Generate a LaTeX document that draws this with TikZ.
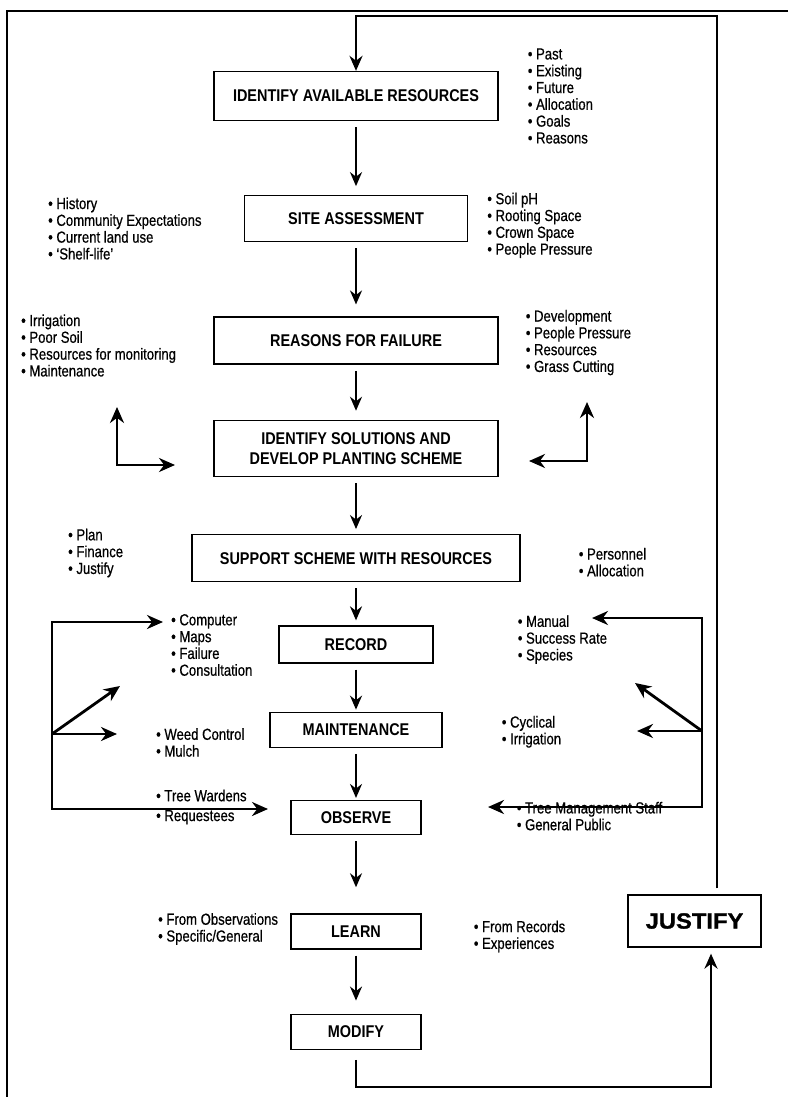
\documentclass[tikz,border=0pt]{standalone}
\usepackage{fontspec}
\setmainfont{Liberation Sans}[FakeStretch=0.82,FakeBold=0.6]
\newfontfamily\titlefont{Liberation Sans}[FakeStretch=0.85]
\newfontfamily\bigfont{Liberation Sans}[FakeStretch=1.08,FakeBold=1.2]
\usetikzlibrary{arrows.meta,positioning}

\begin{document}
\begin{tikzpicture}[
				x=1pt,y=1pt,
				node distance=60pt,
				stage/.style={draw,rectangle,line width=1.3pt,align=center,inner sep=2pt,font=\titlefont\fontsize{17}{19.5}\selectfont\bfseries},
				notes/.style={align=left,inner sep=0pt,anchor=west,font=\fontsize{16}{16.8}\selectfont},
				flow/.style={-{Stealth[length=14pt,width=12pt]},line width=2pt,shorten <=6pt,shorten >=9pt},
				loop/.style={line width=2.6pt},
				turn/.style={line width=2.8pt}
				]
				
				\useasboundingbox (0,0) rectangle (788,-1097);
				\draw[line width=2.4pt] (788,-11) -- (7,-11) -- (7,-1097);
				
				\node[stage,minimum width=284pt,minimum height=49pt] (resources) at (356,-96) {IDENTIFY AVAILABLE RESOURCES};
				\node[stage,minimum width=223pt,minimum height=46pt,below=74pt of resources] (site) {SITE ASSESSMENT};
				\node[stage,minimum width=284pt,minimum height=47pt,below=74pt of site] (failure) {REASONS FOR FAILURE};
				\node[stage,minimum width=284pt,minimum height=56pt,below=55pt of failure] (solutions) {IDENTIFY SOLUTIONS AND\\DEVELOP PLANTING SCHEME};
				\node[stage,minimum width=328pt,minimum height=47pt,below=57pt of solutions] (support) {SUPPORT SCHEME WITH RESOURCES};
				\node[stage,minimum width=154pt,minimum height=37pt,below=43pt of support] (record) {RECORD};
				\node[stage,minimum width=172pt,minimum height=35pt,below=48pt of record] (maint) {MAINTENANCE};
				\node[stage,minimum width=130pt,minimum height=34pt,below=52pt of maint] (observe) {OBSERVE};
				\node[stage,minimum width=130pt,minimum height=35pt,below=78pt of observe] (learn) {LEARN};
				\node[stage,minimum width=130pt,minimum height=35pt,below=64pt of learn] (modify) {MODIFY};
				\node[stage,minimum width=133pt,minimum height=52pt,font=\bigfont\fontsize{22}{26}\selectfont\bfseries] (justify) at (694.5,-921) {JUSTIFY};
				
				% side notes
				\node[notes,right=29pt of resources] (resNotes) {\textbullet\ Past\\\textbullet\ Existing\\\textbullet\ Future\\\textbullet\ Allocation\\\textbullet\ Goals\\\textbullet\ Reasons};
				\node[notes] (siteLeft) at (48,-228.5) {\textbullet\ History\\\textbullet\ Community Expectations\\\textbullet\ Current land use\\\textbullet\ `Shelf-life'};
				\node[notes,right=19pt of site,yshift=-6.5pt] (siteRight) {\textbullet\ Soil pH\\\textbullet\ Rooting Space\\\textbullet\ Crown Space\\\textbullet\ People Pressure};
				\node[notes] (failLeft) at (21,-345.5) {\textbullet\ Irrigation\\\textbullet\ Poor Soil\\\textbullet\ Resources for monitoring\\\textbullet\ Maintenance};
				\node[notes,right=27pt of failure,yshift=-2pt] (failRight) {\textbullet\ Development\\\textbullet\ People Pressure\\\textbullet\ Resources\\\textbullet\ Grass Cutting};
				\node[notes] (supportLeft) at (68,-553) {\textbullet\ Plan\\\textbullet\ Finance\\\textbullet\ Justify};
				\node[notes,right=58pt of support,yshift=-4pt] (supportRight) {\textbullet\ Personnel\\\textbullet\ Allocation};
				\node[notes] (recordLeft) at (171,-645) {\textbullet\ Computer\\\textbullet\ Maps\\\textbullet\ Failure\\\textbullet\ Consultation};
				\node[notes,right=84pt of record,yshift=5pt] (recordRight) {\textbullet\ Manual\\\textbullet\ Success Rate\\\textbullet\ Species};
				\node[notes] (maintLeft) at (156,-742.5) {\textbullet\ Weed Control\\\textbullet\ Mulch};
				\node[notes,right=59pt of maint,yshift=-2pt] (maintRight) {\textbullet\ Cyclical\\\textbullet\ Irrigation};
				\node[notes] (observeLeft) at (156,-807) {\textbullet\ Tree Wardens\\[3pt]\textbullet\ Requestees};
				\node[notes,right=95pt of observe,yshift=1.5pt] (observeRight) {\textbullet\ Tree Management Staff\\\textbullet\ General Public};
				\node[notes] (learnLeft) at (158,-929) {\textbullet\ From Observations\\\textbullet\ Specific/General};
				\node[notes,right=52pt of learn,yshift=-5pt] (learnRight) {\textbullet\ From Records\\\textbullet\ Experiences};
				
				% main flow
				\draw[flow] (resources) -- (site);
				\draw[flow,shorten >=12pt] (site) -- (failure);
				\draw[flow] (failure) -- (solutions);
				\draw[flow,shorten >=5pt] (solutions) -- (support);
				\draw[flow,shorten >=5pt] (support) -- (record);
				\draw[flow,shorten >=2pt] (record) -- (maint);
				\draw[flow,shorten >=2pt] (maint) -- (observe);
				\draw[flow,shorten >=26pt] (observe) -- (learn);
				\draw[flow,shorten >=13pt] (learn) -- (modify);
				
				% outer feedback loop
				\coordinate (topR) at (717,-16);
				\coordinate (topL) at (356,-16);
				\coordinate (botL) at (356,-1087);
				\coordinate (botR) at (711,-1087);
				\draw[loop,-{Stealth[length=15pt,width=13pt]},shorten <=6pt] (justify.north -| topR) -- (topR) -- (topL) -- (resources.north);
				\draw[loop,-{Stealth[length=15pt,width=13pt]},shorten <=10pt,shorten >=6pt] (modify.south) -- (botL) -- (botR) -- (botR |- justify.south);
				
				% corner arrows beside the planting scheme
				\coordinate (solLC) at (117,-465);
				\coordinate (solRC) at (587,-461);
				\draw[turn,{Stealth[length=16pt,width=14pt]}-{Stealth[length=16pt,width=14pt]}] (117,-407) -- (solLC) -- (175,-465);
				\draw[turn,{Stealth[length=16pt,width=14pt]}-{Stealth[length=16pt,width=14pt]}] (587,-402) -- (solRC) -- (529,-461);
				
				% side loops
				\coordinate (leftMid) at (52,-734);
				\coordinate (rightMid) at (702,-731);
				\draw[turn,{Stealth[length=16pt,width=14pt]}-{Stealth[length=16pt,width=14pt]}] (163,-622) -- (52,-622) -- (52,-809) -- (268,-809);
				\draw[turn,-{Stealth[length=16pt,width=14pt]}] (leftMid) -- (120,-686);
				\draw[turn,-{Stealth[length=16pt,width=14pt]}] (leftMid) -- (117,-734);
				\draw[turn,{Stealth[length=16pt,width=14pt]}-{Stealth[length=16pt,width=14pt]}] (592,-618) -- (702,-618) -- (702,-807) -- (488,-807);
				\draw[turn,-{Stealth[length=16pt,width=14pt]}] (rightMid) -- (635,-683);
				\draw[turn,-{Stealth[length=16pt,width=14pt]}] (rightMid) -- (637,-731);
				
			\end{tikzpicture}
\end{document}
